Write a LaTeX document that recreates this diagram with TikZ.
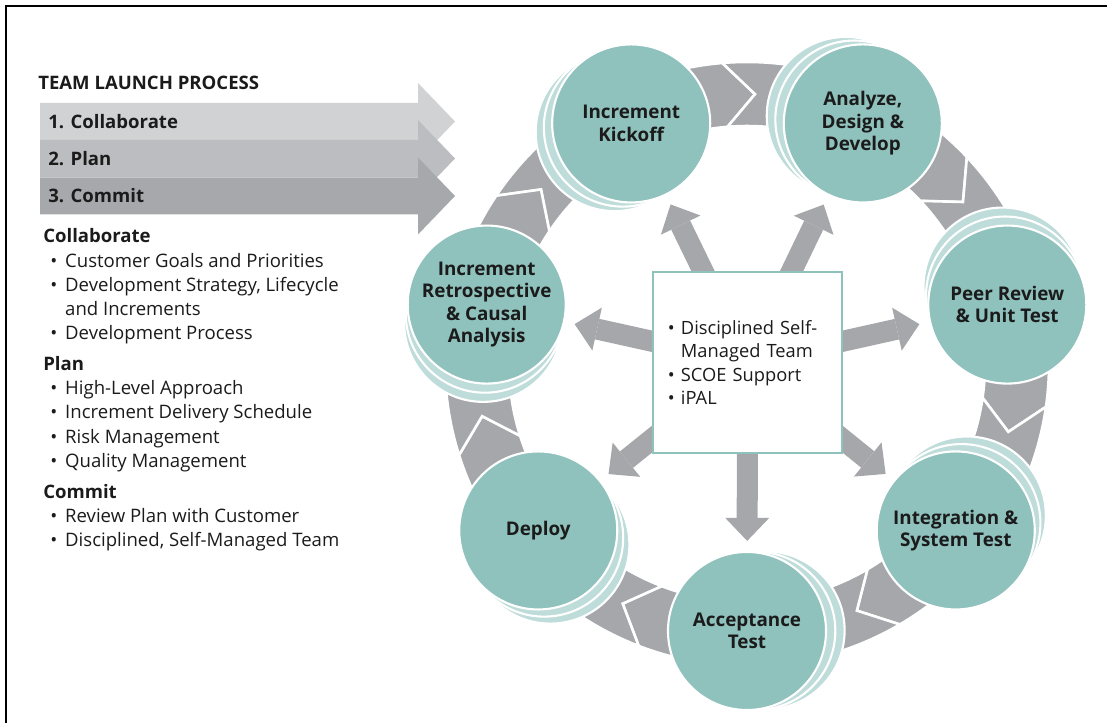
\documentclass[tikz,border=0pt]{standalone}
\usepackage{fontspec}
\setmainfont{Open Sans}
\usetikzlibrary{calc,arrows.meta}
\definecolor{tealmain}{HTML}{8FC1BD}
\definecolor{tealback}{HTML}{BEDCD9}
\definecolor{ringgray}{HTML}{A6A7AB}
\definecolor{barone}{HTML}{D1D2D4}
\definecolor{bartwo}{HTML}{BCBDC0}
\definecolor{barthree}{HTML}{A7A8AB}
\definecolor{ink}{HTML}{1B1B1B}
\pgfdeclarelayer{background}
\pgfsetlayers{background,main}
\newcommand{\bl}{\hspace*{5pt}\makebox[10.6pt][l]{\textbullet}}

\begin{document}
\begin{tikzpicture}[x=0.025cm,y=0.025cm,text=ink,
	stage/.style={circle,minimum size=3.95cm,inner sep=0pt,fill=tealmain,draw=white,line width=1.5pt,
		align=center,font=\bfseries\fontsize{13.4}{16}\selectfont},
	ghost/.style={fill=tealback,draw=white,line width=1.5pt},
	ring/.style={fill=ringgray,draw=white,line width=1.8pt},
	spoke/.style={draw=ringgray,line width=0.525cm,shorten >=0.25cm,
		-{Triangle[width=1.1cm,length=0.575cm,line width=0pt]}},
	hub/.style={draw=tealmain,line width=1.4pt,fill=white,minimum height=4.525cm,
		text width=3.975cm,inner xsep=0.375cm,align=left,font=\fontsize{13}{16.7}\selectfont},
	plain/.style={inner sep=0pt,font=\fontsize{13.2}{17.2}\selectfont}]
	\useasboundingbox (0,0) rectangle (1107,723);
	% frame
	\draw[line width=1.4pt] (6,0) -- (6,717) -- (1107,717);
	% launch process
	\node[plain,anchor=base west,font=\bfseries\fontsize{13.2}{17.2}\selectfont] (title) at (38,633.4) {TEAM LAUNCH PROCESS};
	\foreach \c/\y/\t [count=\i] in {barone/601.5/Collaborate,bartwo/564.5/Plan,barthree/527/Commit}{
		\fill[\c] (40,\y-18.5) -- (418,\y-18.5) -- (418,\y-38.5) -- (455,\y)
		-- (418,\y+38.5) -- (418,\y+18.5) -- (40,\y+18.5) -- cycle;
		\node[plain,anchor=west,font=\bfseries\fontsize{13.2}{17.2}\selectfont] (launch\i) at (48,\y) {\i. \t};
	}
	\node[plain,anchor=north west,align=left] (detail) at (43,494.5) {%
		\textbf{Collaborate}\\
		\bl Customer Goals and Priorities\\
		\bl Development Strategy, Lifecycle\\
		\hphantom{\bl}and Increments\\
		\bl Development Process\\[4.8pt]
		\textbf{Plan}\\
		\bl High-Level Approach\\
		\bl Increment Delivery Schedule\\
		\bl Risk Management\\
		\bl Quality Management\\[4.8pt]
		\textbf{Commit}\\
		\bl Review Plan with Customer\\
		\bl Disciplined, Self-Managed Team};
	% cycle
	\coordinate (C) at (747,359);
	\foreach \a/\n/\l in {115.71/kick/{Increment\\Kickoff},
		64.29/adev/{Analyze,\\Design \&\\Develop},
		12.86/peer/{Peer Review\\\& Unit Test},
		-38.57/integ/{Integration \&\\System Test},
		-90/accept/{Acceptance\\Test},
		-141.43/deploy/{Deploy},
		-192.86/retro/{Increment\\Retrospective\\\& Causal\\Analysis}}{
		\path[ghost] ([shift={(\a+4:267)}]C) circle (79);
		\path[ghost] ([shift={(\a+2:267)}]C) circle (79);
		\node[stage] (\n) at ([shift={(\a:267)}]C) {\l};
	}
	\node[hub] (hub) at (747.5,360.5) {%
		\textbullet\ Disciplined Self-\\
		\hphantom{\textbullet\ }Managed Team\\
		\textbullet\ SCOE Support\\
		\textbullet\ iPAL};
	\begin{pgfonlayer}{background}
		\foreach \t in {115.71,64.29,12.86,-38.57,-90,-141.43,-192.86}
		\path[ring] ([shift={(\t+30.4:302)}]C) arc[start angle=\t+30.4,end angle=\t-21,radius=302]
		-- ([shift={(\t-27.4:270)}]C) -- ([shift={(\t-21:238)}]C)
		arc[start angle=\t-21,end angle=\t+30.4,radius=238]
		-- ([shift={(\t+24:270)}]C) -- cycle;
		\foreach \n in {kick,adev,peer,integ,accept,deploy,retro}
		\draw[spoke] (hub.center) -- (\n);
	\end{pgfonlayer}
\end{tikzpicture}
\end{document}
